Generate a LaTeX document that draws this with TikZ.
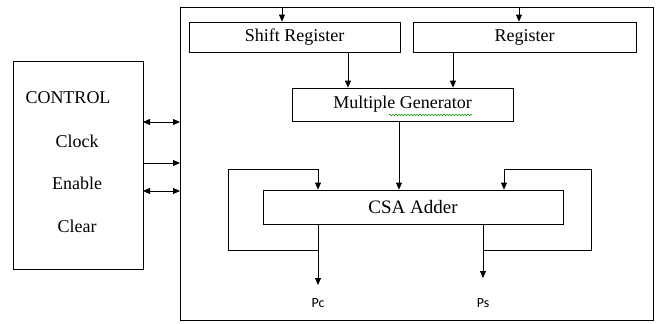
\documentclass[tikz,border=0pt]{standalone}
\usepackage{fontspec}
\setmainfont{Liberation Serif}
\newfontfamily\outfont{Carlito}
\usepackage{tikz}
\usetikzlibrary{shapes,arrows.meta,decorations.pathmorphing}
\newcommand{\hwblock}[5] {\node at (#1) (#2) [rectangle, draw, minimum width=#3, minimum height=#4] {#5};}
\newcommand{\hwlabel}[3] {\node at (#1) (#2) {#3};}
\newcommand{\hwlink}[2] {\draw [->] (#1) -- (#2);}
\newcommand{\hwboth}[2] {\draw [<->] (#1) -- (#2);}
\newcommand{\hwloop}[5] {\draw [->] (#1) -- (#2) -- (#3) -- (#4) -- (#5);}
\tikzset{>={Triangle[length=7pt,width=6pt]}}

\begin{document}
\begin{tikzpicture}[x=1pt, y=-1pt, line width=0.8pt, font=\fontsize{18}{20}\selectfont]
\useasboundingbox (0,0) rectangle (657,324);

\hwblock {416.5,163.5}{chip}{473}{313}{}
\hwblock {78,165}{ctrl}{130}{208}{}

\hwlabel {68,98}{control}{CONTROL}
\hwlabel {77,141}{clock}{Clock}
\hwlabel {77,183}{enable}{Enable}
\hwlabel {77,226}{clear}{Clear}

\coordinate (ctrl1) at (143,122);
\coordinate (chip1) at (180,122);
\coordinate (ctrl2) at (143,163);
\coordinate (chip2) at (180,163);
\coordinate (ctrl3) at (143,191);
\coordinate (chip3) at (180,191);
\hwboth {ctrl1}{chip1}
\hwlink {ctrl2}{chip2}
\hwboth {ctrl3}{chip3}

\hwblock {294.5,37}{shreg}{211}{30}{Shift Register}
\hwblock {524.5,37}{reg}{223}{30}{Register}
\coordinate (shregin) at (282,7);
\coordinate (regin) at (519,7);
\hwlink {shregin}{shregin |- shreg.north}
\hwlink {regin}{regin |- reg.north}

\hwblock {402.5,104.5}{mgen}{221}{33}{Multiple Generator}
\draw [green!60!black, line width=0.5pt, decorate, decoration={snake, amplitude=0.8pt, segment length=3pt}] (389,115) -- (472,115);
\coordinate (shreg1) at (348,52);
\coordinate (reg1) at (453,52);
\hwlink {shreg1}{shreg1 |- mgen.north}
\hwlink {reg1}{reg1 |- mgen.north}

\hwblock {413,207}{csa}{300}{34}{\fontsize{19}{21}\selectfont CSA Adder}
\coordinate (mgen1) at (399,121);
\hwlink {mgen1}{mgen1 |- csa.north}

% carry loop and output
\coordinate (pc1) at (318,224);
\coordinate (pc2) at (318,250);
\coordinate (pc3) at (228,250);
\coordinate (pc4) at (228,169);
\coordinate (pc5) at (318,169);
\hwlabel {318,303}{pc}{\outfont\fontsize{14}{16}\selectfont Pc}
\hwlink {pc1}{318,285}
\hwloop {pc2}{pc3}{pc4}{pc5}{pc5 |- csa.north}

% sum loop and output
\coordinate (ps1) at (483,224);
\coordinate (ps2) at (483,250);
\coordinate (ps3) at (591,250);
\coordinate (ps4) at (591,169);
\coordinate (ps5) at (504,169);
\hwlabel {483,303}{ps}{\outfont\fontsize{14}{16}\selectfont Ps}
\hwlink {ps1}{483,278}
\hwloop {ps2}{ps3}{ps4}{ps5}{ps5 |- csa.north}

\end{tikzpicture}
\end{document}
